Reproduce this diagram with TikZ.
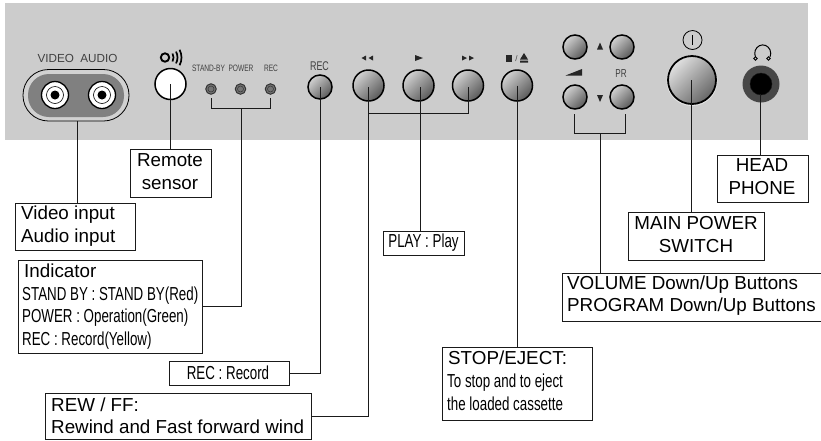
\documentclass[tikz,border=0pt]{standalone}
\usepackage{fontspec}
\setmainfont{Liberation Sans}
\newfontfamily\narrowf[FakeStretch=0.71]{Liberation Sans}
\definecolor{panel}{HTML}{CCCCCC}
\definecolor{ink}{HTML}{1A1A1A}
\tikzset{
  x=1pt,y=-1pt,
  conn/.style={draw=ink,line width=0.8pt},
  box/.style={draw=ink,line width=0.8pt,fill=white,rectangle,inner sep=0pt,outer sep=0pt},
  big/.style={font=\fontsize{18.8}{22.5}\selectfont,align=left,inner sep=0pt},
  bigc/.style={font=\fontsize{18.8}{23}\selectfont,align=center,inner sep=0pt},
  small/.style={font=\narrowf\fontsize{18.8}{22.5}\selectfont,align=left,inner sep=0pt},
  lab/.style={inner sep=0pt,text=black!75},
  btn/.style={circle,draw=black,line width=1.5pt,inner sep=0pt,shade,top color=black!18,bottom color=black!65,shading angle=45},
  sym/.style={fill=black!85},
}
\newcommand{\boxat}[6]{% name, x0,y0,x1,y1
  \path ({(#2+#4)/2},{(#3+#5)/2}) node[box,minimum width={(#4-#2)*1pt},minimum height={(#5-#3)*1pt},#6] (#1) {};}
\begin{document}
\begin{tikzpicture}
\useasboundingbox (0,0) rectangle (821,440);
\fill[panel] (5,3) rectangle (808,140);

% A/V pill
\draw[line width=0.8pt,draw=black,fill=panel!90!white,rounded corners=25.5] (23,69.5) rectangle (129,121);
\fill[black!50,rounded corners=21] (28,74) rectangle (124,117);
\foreach \n/\xx in {va/55,vb/102}{
  \node[circle,draw=black,line width=1.3pt,fill=white,minimum size=27,inner sep=0pt] (\n) at (\xx,95) {};
  \draw[black,line width=0.6pt] (\n.center) circle[radius=8.5];
  \fill[black] (\n.center) circle[radius=4.5];
}
\node[lab,font=\fontsize{11.7}{12}\selectfont] (avlabel) at (77.5,58) {VIDEO\ \ AUDIO};

% sensor
\node[circle,draw=black,line width=1.5pt,fill=white,minimum size=31,inner sep=0pt] (sensor) at (170.5,84) {};
\draw[black,line width=1.9pt] (165,57.5) circle[radius=4.2];
\foreach \r in {8.5,12.5,16.5}{
  \draw[black,line width=1.7pt] ({165+\r*cos(28)},{57.5-\r*sin(28)}) arc[start angle=28,end angle=-28,radius=\r,y radius=-\r];
}

% LEDs
\foreach \n/\xx in {la/211,lb/240.5,lc/270.5}{
  \node[circle,draw=black!80,line width=1pt,fill=black!55,minimum size=10.5,inner sep=0pt] (\n) at (\xx,89) {};
  \draw[black!80,line width=0.5pt] (\n.center) circle[radius=3];
}
\node[lab,font=\narrowf\fontsize{9.3}{10}\selectfont] (la-t) at (208.5,68) {STAND-BY};
\node[lab,font=\narrowf\fontsize{9.3}{10}\selectfont] (lb-t) at (241,68) {POWER};
\node[lab,font=\narrowf\fontsize{9.3}{10}\selectfont] (lc-t) at (271,68) {REC};

% transport buttons
\node[btn,minimum size=24] (brec) at (320,87) {};
\node[lab,font=\narrowf\fontsize{12.6}{13}\selectfont] (brec-t) at (319.5,66) {REC};
\node[btn,minimum size=31] (brew) at (368.5,85.5) {};
\node[btn,minimum size=31] (bplay) at (418.5,85.5) {};
\node[btn,minimum size=31] (bff) at (468,85.5) {};
\node[btn,minimum size=31] (bstop) at (517,85.5) {};
\fill[sym] (361.5,58) -- (366,55.5) -- (366,60.5) -- cycle (368.5,58) -- (373,55.5) -- (373,60.5) -- cycle;
\fill[sym] (415,55) -- (423,58) -- (415,61) -- cycle;
\fill[sym] (462,55.5) -- (467,58) -- (462,60.5) -- cycle (469,55.5) -- (474,58) -- (469,60.5) -- cycle;
\fill[sym] (505.5,55) rectangle (512,61.5);
\node[lab,font=\fontsize{8}{9}\selectfont] (slash) at (516.5,58.5) {/};
\fill[sym] (524,53) -- (528,59.5) -- (520,59.5) -- cycle (520,60.5) rectangle (528,62.5);

% volume / program buttons
\node[btn,minimum size=24] (v1) at (575,47) {};
\node[btn,minimum size=24] (v2) at (622,47) {};
\node[btn,minimum size=24] (v3) at (575,97) {};
\node[btn,minimum size=24] (v4) at (622,97) {};
\fill[sym] (600,42.5) -- (603,49.5) -- (597,49.5) -- cycle;
\fill[sym] (600,102) -- (603,95) -- (597,95) -- cycle;
\fill[sym] (565.5,75.5) -- (582,69) -- (582,75.5) -- cycle;
\node[lab,font=\narrowf\fontsize{11.5}{12}\selectfont] (pr-t) at (621,74) {PR};

% main power
\fill[white,opacity=.5] (692,80.5) circle[radius=25.5];
\node[circle,draw=black,line width=1.8pt,inner sep=0pt,minimum size=48,shade,top color=black!12,bottom color=black!60,shading angle=45] (bmain) at (692,80) {};
\node[circle,draw=black,line width=0.8pt,inner sep=0pt,minimum size=19] (pwr) at (692.5,40) {};
\draw[black,line width=0.9pt] (692.5,35) -- (692.5,45);

% headphone jack
\node[circle,fill=black!72,inner sep=0pt,minimum size=37] (jack) at (761,84) {};
\node[circle,fill=black,draw=black!90,inner sep=0pt,minimum size=22] (jackin) at (761,84) {};
\draw[black,line width=1pt] (755.5,57) arc[start angle=205,end angle=-25,radius=8,y radius=-8.5];
\draw[black,line width=0.9pt] (755.5,58.5) circle[radius=1.7] (768.5,58.5) circle[radius=1.7];

% boxes with text
\boxat{videobox}{15}{203}{135}{250}{}
\node[big,anchor=west] (videotext) at (21,226) {Video input\\Audio input};

\boxat{remotebox}{130}{149}{211}{197}{}
\node[bigc] (remotetext) at (170,172) {Remote\\sensor};

\boxat{indbox}{18}{260}{202}{353}{}
\node[font=\fontsize{18.8}{20}\selectfont,anchor=base west,inner sep=0pt] (indtitle) at (24,277) {Indicator};
\node[small,anchor=north west] (indtext) at (22,286.5) {STAND BY : STAND BY(Red)\\POWER : Operation(Green)\\REC : Record(Yellow)};

\boxat{recbox}{169}{361}{289}{385}{}
\node[font=\narrowf\fontsize{18.8}{20}\selectfont,inner sep=0pt] (rectext) at (228,372.5) {REC : Record};

\boxat{rewbox}{45}{393}{311}{439}{}
\node[big,anchor=west] (rewtext) at (51,416) {REW / FF:\\Rewind and Fast forward wind};

\boxat{playbox}{383}{231}{464}{255}{}
\node[font=\narrowf\fontsize{18.8}{20}\selectfont,inner sep=0pt] (playtext) at (423.5,243) {PLAY : Play};

\boxat{stopbox}{442}{347}{592}{420}{}
\node[font=\fontsize{18.8}{20}\selectfont,anchor=base west,inner sep=0pt] (stoptitle) at (448,364) {STOP/EJECT:};
\node[small,anchor=north west] (stoptext) at (447,374) {To stop and to eject\\the loaded cassette};

\boxat{volbox}{562}{273}{821}{321}{}
\node[big,anchor=west] (voltext) at (567,295.5) {VOLUME Down/Up Buttons\\PROGRAM Down/Up Buttons};

\boxat{mainbox}{628}{212}{764}{260}{}
\node[bigc] (maintext) at (696,235) {MAIN POWER\\SWITCH};

\boxat{headbox}{717}{155}{808}{202}{}
\node[bigc] (headtext) at (762,177) {HEAD\\PHONE};

% connectors
\coordinate (avout) at (77.5,121);
\path[conn] (avout) -- (avout |- videobox.north);
\path[conn] (sensor.center) -- (sensor.center |- remotebox.north);
\coordinate (bl) at (241,108);
\coordinate (ledy) at (0,98);
\path[conn] (la.center |- ledy) -- (la.center |- bl) -- (lc.center |- bl) -- (lc.center |- ledy);
\path[conn] (bl) -- (bl |- indbox.east) -- (indbox.east);
\path[conn] (brec.center) -- (brec.center |- recbox.east) -- (recbox.east);
\coordinate (rewtop) at (368,87);
\coordinate (fftop) at (468,87);
\coordinate (rewbr) at (368,113);
\path[conn] (rewtop) -- (rewtop |- rewbox.east) -- (rewbox.east);
\path[conn] (fftop) -- (fftop |- rewbr) -- (rewbr);
\coordinate (playtop) at (420,87);
\path[conn] (playtop) -- (playtop |- playbox.north);
\path[conn] (bstop.center) -- (bstop.center |- stopbox.north);
\coordinate (vb) at (600,133);
\coordinate (vl) at (574,114);
\coordinate (vr) at (625,114);
\path[conn] (vl) -- (vl |- vb) -- (vr |- vb) -- (vr);
\path[conn] (vb) -- (vb |- volbox.north);
\coordinate (maintop) at (691.5,80);
\path[conn] (maintop) -- (maintop |- mainbox.north);
\coordinate (jacktop) at (760,94);
\path[conn] (jacktop) -- (jacktop |- headbox.north);
\end{tikzpicture}
\end{document}
